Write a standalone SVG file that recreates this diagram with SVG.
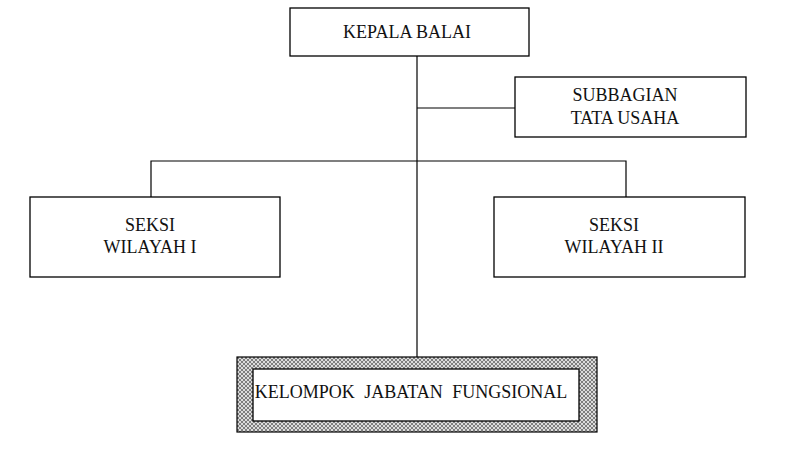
<svg xmlns="http://www.w3.org/2000/svg" width="788" height="458" viewBox="0 0 788 458">
<style>
.box{fill:#fff;stroke:#000;stroke-width:1.3}
.t{font-family:"Liberation Serif","DejaVu Serif",serif;font-size:18px;fill:#111;text-anchor:middle}
.ln{stroke:#000;stroke-width:1.2;fill:none}
</style>
<defs>
<pattern id="hatch" width="4" height="4" patternUnits="userSpaceOnUse">
<rect width="4" height="4" fill="#dcdcdc"/>
<path d="M0,0 L4,4 M4,0 L0,4" stroke="#666" stroke-width="0.8"/>
</pattern>
</defs>
<rect width="788" height="458" fill="#fff"/>
<g id="connectors">
<line class="ln" x1="417" y1="56" x2="417" y2="357"/>
<line class="ln" x1="417" y1="108" x2="515" y2="108"/>
<polyline class="ln" points="151,197 151,161 626,161 626,197"/>
</g>
<g id="kepala">
<rect class="box" x="290" y="8" width="239" height="48"/>
<text class="t" x="407" y="38">KEPALA BALAI</text>
</g>
<g id="subbagian">
<rect class="box" x="515" y="77" width="231" height="60"/>
<text class="t" x="625" y="101">SUBBAGIAN</text>
<text class="t" x="625" y="124">TATA USAHA</text>
</g>
<g id="seksi1">
<rect class="box" x="30" y="197" width="250" height="80"/>
<text class="t" x="150" y="231">SEKSI</text>
<text class="t" x="150" y="253">WILAYAH I</text>
</g>
<g id="seksi2">
<rect class="box" x="494" y="197" width="251" height="80"/>
<text class="t" x="614" y="231">SEKSI</text>
<text class="t" x="614" y="253">WILAYAH II</text>
</g>
<g id="kelompok">
<rect x="237" y="357" width="360" height="75" fill="url(#hatch)" stroke="#000" stroke-width="1.2"/>
<rect class="box" x="253" y="369" width="326" height="52"/>
<text class="t" x="411" y="398" style="word-spacing:5px">KELOMPOK JABATAN FUNGSIONAL</text>
</g>
</svg>
